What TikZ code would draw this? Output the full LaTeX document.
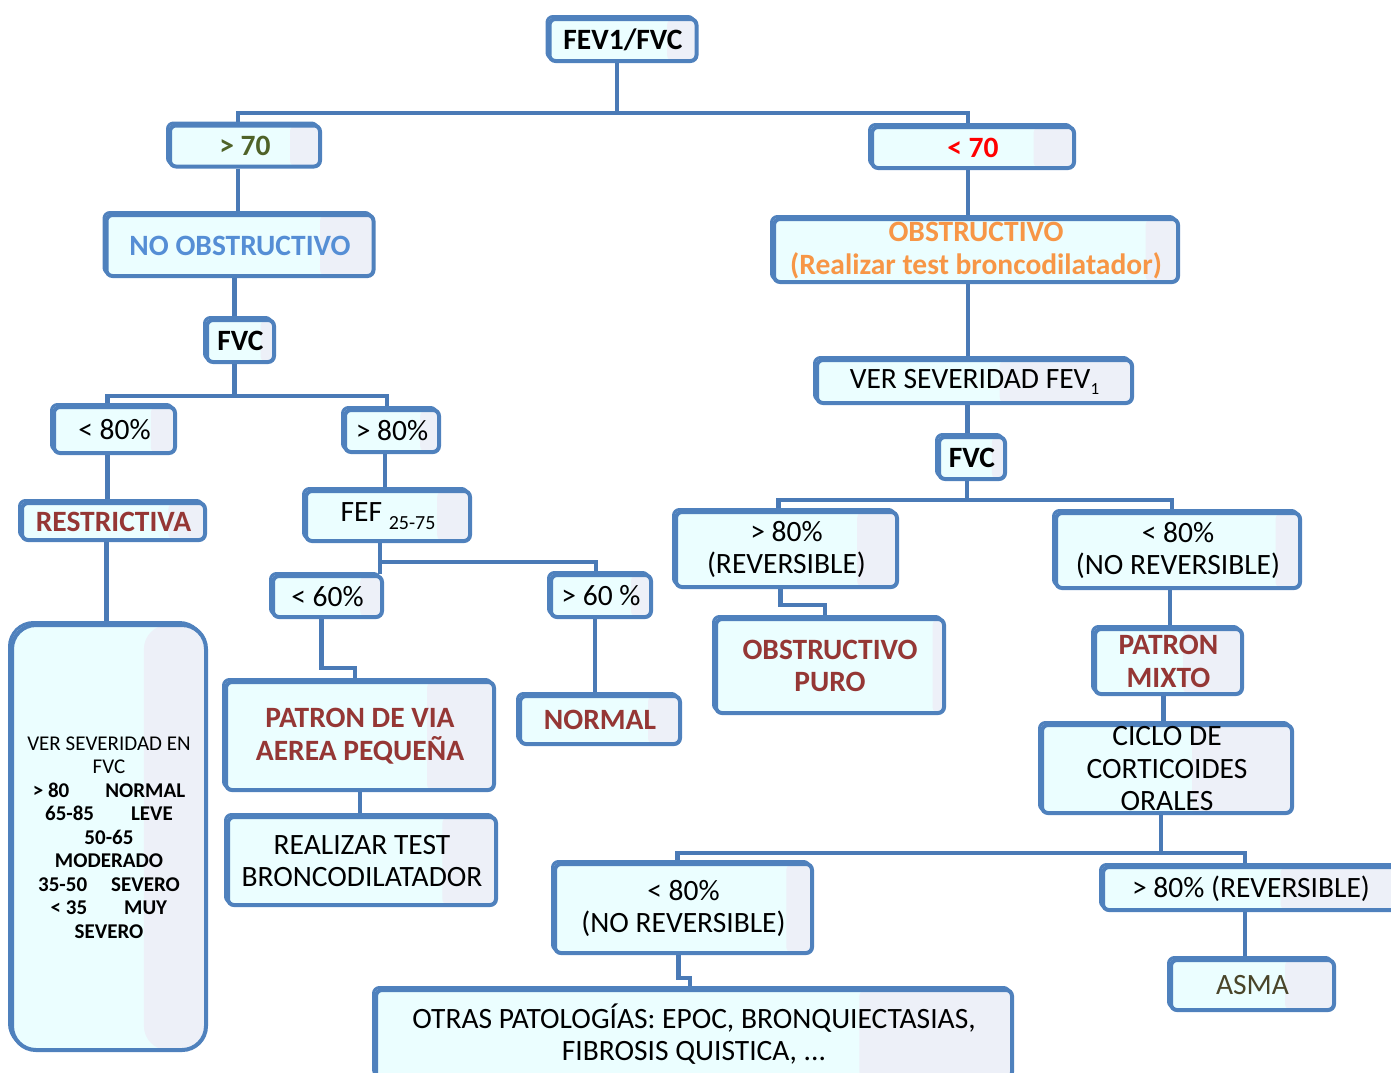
\documentclass[tikz,border=0pt]{standalone}
\usepackage{fontspec}
\setmainfont{Carlito}
\usetikzlibrary{calc,shadows}
\pgfdeclarelayer{background}
\pgfsetlayers{background,main}
\definecolor{boxblue}{RGB}{79,129,189}
\definecolor{connblue}{RGB}{74,122,182}
\definecolor{cyanf}{RGB}{235,254,255}
\definecolor{lavf}{RGB}{237,240,248}
\definecolor{grn}{RGB}{79,98,40}
\definecolor{nob}{RGB}{85,142,213}
\definecolor{org}{RGB}{247,150,70}
\definecolor{drk}{RGB}{149,55,53}
\definecolor{asm}{RGB}{74,69,42}
\tikzset{
  box/.style={draw=boxblue, line width=4pt, rounded corners=6pt, fill=cyanf,
    inner sep=0pt, align=center, font=\fontsize{29.5}{32.5}\selectfont,
    copy shadow={shadow xshift=-2.5pt, shadow yshift=2.5pt, fill=none, draw=boxblue, line width=3pt},
    path picture={\fill[lavf] ($(path picture bounding box.south west)!#1!(path picture bounding box.south east)$) rectangle (path picture bounding box.north east);}},
  box/.default=0.8,
  txt/.style={inner sep=0pt, align=center, font=\fontsize{29.5}{32.5}\selectfont},
  conn/.style={draw=connblue, line width=4.5pt}
}
\begin{document}
\begin{tikzpicture}[x=1pt,y=-1pt]
\useasboundingbox (0,0) rectangle (1391,1072);
% nodes
\node[box] (fev) at (623,40) [minimum width=147, minimum height=42] {\bfseries FEV1/FVC};
\node[box] (gt70) at (245,146) [minimum width=150, minimum height=41] {\bfseries\color{grn}> 70};
\node[box] (lt70) at (973,147.5) [minimum width=202, minimum height=41] {\bfseries\color{red}< 70};
\node[box] (noobs) at (240,245.5) [minimum width=267, minimum height=61] {\bfseries\color{nob}NO OBSTRUCTIVO};
\node[box=0.92] (obs) at (976,250.5) [minimum width=404, minimum height=63] {\bfseries\color{org}OBSTRUCTIVO\\\bfseries\color{org}(Realizar test broncodilatador)};
\node[box] (fvcL) at (240.5,341) [minimum width=67, minimum height=42] {\bfseries FVC};
\node[box=0.58] (ver) at (974.5,381.5) [minimum width=315, minimum height=43] {VER SEVERIDAD FEV\raisebox{-6pt}{\fontsize{17}{17}\selectfont 1}};
\node[box] (fvcR) at (972,458) [minimum width=66, minimum height=42] {\bfseries FVC};
\node[box] (lt80L) at (114.5,430) [minimum width=121, minimum height=46] {< 80\%};
\node[box] (gt80L) at (392,431) [minimum width=94, minimum height=42] {> 80\%};
\node[box] (restr) at (113.5,521.5) [minimum width=183, minimum height=37] {\bfseries\color{drk}RESTRICTIVA};
\node[box] (fef) at (388,516) [minimum width=164, minimum height=50] {FEF \raisebox{-8pt}{\fontsize{20}{20}\selectfont 25-75}};
\node[box] (lt60) at (327.5,596.5) [minimum width=109, minimum height=41] {< 60\%};
\node[box] (gt60) at (601,596) [minimum width=100, minimum height=42] {> 60 \%};
\node[box=0.68, rounded corners=24pt] (tall) at (109,837.5) [minimum width=194, minimum height=425] {};
\node[txt, font=\fontsize{21}{23.5}\selectfont] (tallt) at (tall) {VER SEVERIDAD EN\\FVC\\\textbf{> 80\hspace{36pt}NORMAL}\\\textbf{65-85\hspace{37pt}LEVE}\\\textbf{50-65}\\\textbf{MODERADO}\\\textbf{35-50\hspace{24pt}SEVERO}\\\textbf{< 35\hspace{37pt}MUY}\\\textbf{SEVERO}};
\node[box=0.75] (pva) at (360,736) [minimum width=268, minimum height=108] {\bfseries\color{drk}PATRON DE VIA\\\bfseries\color{drk}AEREA PEQUEÑA};
\node[box] (normal) at (600,720) [minimum width=160, minimum height=48] {\bfseries\color{drk}NORMAL};
\node[box] (realizar) at (362,861) [minimum width=268, minimum height=88] {REALIZAR TEST\\BRONCODILATADOR};
\node[box=0.82] (rev) at (786.5,549.5) [minimum width=221, minimum height=75] {> 80\%\\(REVERSIBLE)};
\node[box=0.9] (norev) at (1178,550.5) [minimum width=244, minimum height=75] {< 80\%\\(NO REVERSIBLE)};
\node[box=0.95] (puro) at (830,666) [minimum width=228, minimum height=94] {\bfseries\color{drk}OBSTRUCTIVO\\\bfseries\color{drk}PURO};
\node[box=0.6] (mixto) at (1168.5,661.5) [minimum width=147, minimum height=65] {\bfseries\color{drk}PATRON\\\bfseries\color{drk}MIXTO};
\node[box=0.6] (ciclo) at (1167,769) [minimum width=250, minimum height=88] {};
\node[txt] (ciclot) at (ciclo) {CICLO DE\\CORTICOIDES\\ORALES};
\node[box=0.9] (norev2) at (683.5,908.5) [minimum width=257, minimum height=89] {< 80\%\\(NO REVERSIBLE)};
\node[box=0.6] (rev2) at (1251,888.5) [minimum width=296, minimum height=43] {> 80\% (REVERSIBLE)};
\node[box=0.7] (asma) at (1252.5,985) [minimum width=163, minimum height=50] {\color{asm}ASMA};
\node[box=0.76] (otras) at (694,1034) [minimum width=636, minimum height=88] {OTRAS PATOLOGÍAS: EPOC, BRONQUIECTASIAS,\\FIBROSIS QUISTICA, ...};
% connection points
\coordinate (b1) at (0,113);
\coordinate (b2) at (0,396);
\coordinate (b3) at (0,562);
\coordinate (b4) at (0,500);
\coordinate (b5) at (0,853);
\coordinate (b6) at (0,668);
\coordinate (b7) at (0,605);
\coordinate (b8) at (0,978);
\coordinate (fevS) at ([xshift=-6pt]fev.south);
\coordinate (gt70N) at ([xshift=-7pt]gt70.north);
\coordinate (gt70S) at ([xshift=-7pt]gt70.south);
\coordinate (lt70N) at ([xshift=-5pt]lt70.north);
\coordinate (lt70S) at ([xshift=-5pt]lt70.south);
\coordinate (fvcLN) at ([xshift=-6pt]fvcL.north);
\coordinate (fvcLS) at ([xshift=-6pt]fvcL.south);
\coordinate (lt80N) at ([xshift=-7pt]lt80L.north);
\coordinate (lt80S) at ([xshift=-7pt]lt80L.south);
\coordinate (gt80N) at ([xshift=-5pt]gt80L.north);
\coordinate (gt80S) at ([xshift=-7pt]gt80L.south);
\coordinate (restrS) at ([xshift=-7pt]restr.south);
\coordinate (fefS) at ([xshift=-8pt]fef.south);
\coordinate (lt60S) at ([xshift=-6pt]lt60.south);
\coordinate (pvaN) at ([xshift=-5pt]pva.north);
\coordinate (gt60N) at ([xshift=-5pt]gt60.north);
\coordinate (gt60S) at ([xshift=-6pt]gt60.south);
\coordinate (obsS) at ([xshift=-8pt]obs.south);
\coordinate (verS) at ([xshift=-7pt]ver.south);
\coordinate (fvcRS) at ([xshift=-5pt]fvcR.south);
\coordinate (revN) at ([xshift=-8pt]rev.north);
\coordinate (revS) at ([xshift=-6pt]rev.south);
\coordinate (puroN) at ([xshift=-5pt]puro.north);
\coordinate (norevN) at ([xshift=-6pt]norev.north);
\coordinate (norevS) at ([xshift=-8pt]norev.south);
\coordinate (mixtoS) at ([xshift=-5pt]mixto.south);
\coordinate (cicloS) at ([xshift=-6pt]ciclo.south);
\coordinate (norev2N) at ([xshift=-6pt]norev2.north);
\coordinate (norev2S) at ([xshift=-5pt]norev2.south);
\coordinate (otrasN) at ([xshift=-4pt]otras.north);
\coordinate (rev2N) at ([xshift=-6pt]rev2.north);
\coordinate (rev2S) at ([xshift=-6pt]rev2.south);
% connectors
\begin{pgfonlayer}{background}
\draw[conn] (fevS) -- (fevS |- b1);
\draw[conn] (gt70N) -- (gt70N |- b1) -- (lt70N |- b1) -- (lt70N);
\draw[conn] (gt70S) -- (gt70S |- noobs.north);
\draw[conn] (fvcLN) -- (fvcLN |- noobs.south);
\draw[conn] (fvcLS) -- (fvcLS |- b2);
\draw[conn] (lt80N) -- (lt80N |- b2) -- (gt80N |- b2) -- (gt80N);
\draw[conn] (lt80S) -- (lt80S |- restr.north);
\draw[conn] (restrS) -- (restrS |- tall.north);
\draw[conn] (gt80S) -- (gt80S |- fef.north);
\draw[conn] (fefS) -- (fefS |- lt60.north);
\draw[conn] (fefS |- b3) -- (gt60N |- b3) -- (gt60N);
\draw[conn] (lt60S) -- (lt60S |- b6) -- (pvaN |- b6) -- (pvaN);
\draw[conn] (pva.south) -- (pva.south |- realizar.north);
\draw[conn] (gt60S) -- (gt60S |- normal.north);
\draw[conn] (lt70S) -- (lt70S |- obs.north);
\draw[conn] (obsS) -- (obsS |- ver.north);
\draw[conn] (verS) -- (verS |- fvcR.north);
\draw[conn] (fvcRS) -- (fvcRS |- b4);
\draw[conn] (revN) -- (revN |- b4) -- (norevN |- b4) -- (norevN);
\draw[conn] (revS) -- (revS |- b7) -- (puroN |- b7) -- (puroN);
\draw[conn] (norevS) -- (norevS |- mixto.north);
\draw[conn] (mixtoS) -- (mixtoS |- ciclo.north);
\draw[conn] (cicloS) -- (cicloS |- b5);
\draw[conn] (norev2N) -- (norev2N |- b5) -- (rev2N |- b5) -- (rev2N);
\draw[conn] (norev2S) -- (norev2S |- b8) -- (otrasN |- b8) -- (otrasN);
\draw[conn] (rev2S) -- (rev2S |- asma.north);
\end{pgfonlayer}
\end{tikzpicture}
\end{document}
